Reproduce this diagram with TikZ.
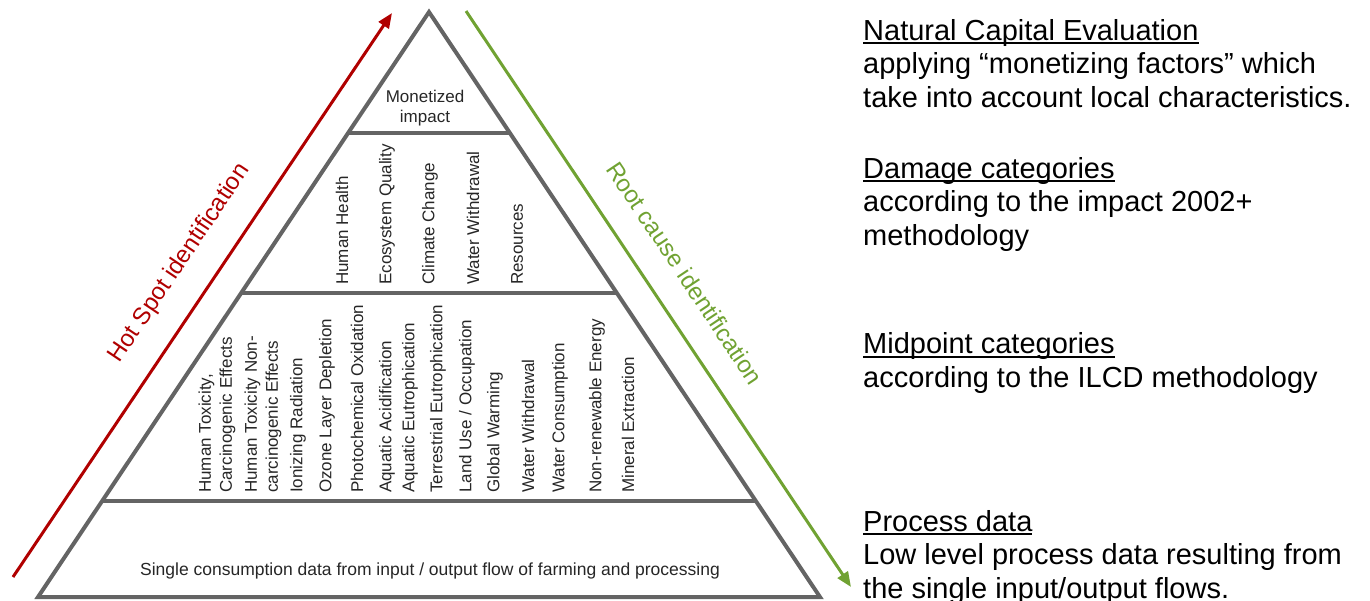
\documentclass[tikz,border=0pt]{standalone}
\usepackage{fontspec}
\setmainfont{Liberation Sans}
\usetikzlibrary{calc,arrows.meta}

\definecolor{hotred}{RGB}{176,0,0}
\definecolor{rootgreen}{RGB}{112,162,50}
\definecolor{pyrgray}{RGB}{100,100,100}
\definecolor{pyrtext}{RGB}{38,38,38}

\newlength\headw
\newcommand\headul[1]{\settowidth{\headw}{#1}\rlap{\rule[-4pt]{\headw}{1.8pt}}#1}

\begin{document}
\begin{tikzpicture}[x=1pt,y=-1pt,
  pyr/.style={draw=pyrgray,line width=4pt},
  flow/.style={line width=3pt,-{Triangle[length=15pt,width=12pt]}},
  flowlabel/.style={sloped,inner sep=0pt,font=\fontsize{24}{28}\selectfont},
  cat/.style={rotate=90,anchor=west,inner sep=0pt,align=left,text=pyrtext,
    font=\fontsize{17}{21}\selectfont},
  note/.style={anchor=base west,inner sep=0pt,align=left,
    font=\fontsize{29}{33.5}\selectfont}]
\useasboundingbox (0,0) rectangle (1370,600);

% pyramid
\coordinate (apex) at (429,12);
\coordinate (bl) at (38,597);
\coordinate (br) at (820,597);
\draw[pyr,line join=miter] (bl) -- (apex) -- (br) -- cycle;
\foreach \t [count=\i] in {0.2068,0.4803,0.8359} {
  \coordinate (left\i) at ($(apex)!\t!(bl)$);
  \coordinate (right\i) at ($(apex)!\t!(br)$);
  \draw[pyr] (left\i) -- (right\i);
}

% levels
\node[align=center,inner sep=0pt,text=pyrtext,font=\fontsize{17}{20}\selectfont]
  (money) at (425,108) {Monetized\\impact};

\foreach \x/\txt [count=\i] in {342/Human Health,387/Ecosystem Quality,
    430/Climate Change,473/Water Withdrawal,517/Resources} {
  \node[cat] (dmg\i) at (\x,285) {\txt};
}

\foreach \x/\txt [count=\i] in {217/{Human Toxicity,\\Carcinogenic Effects},
    263/{Human Toxicity Non-\\carcinogenic Effects},298/Ionizing Radiation,
    327/Ozone Layer Depletion,357/Photochemical Oxidation,
    387/Aquatic Acidification,410/Aquatic Eutrophication,
    438/Terrestrial Eutrophication,467/{Land Use / Occupation},
    495/Global Warming,528/Water Withdrawal,560/Water Consumption,
    597/Non-renewable Energy,628/Mineral Extraction} {
  \node[cat] (mid\i) at (\x,493) {\txt};
}

\node[anchor=base,inner sep=0pt,text=pyrtext,font=\fontsize{17.5}{20}\selectfont]
  (process) at (430,575)
  {Single consumption data from input / output flow of farming and processing};

% arrows
\coordinate (hsfoot) at (13,577);
\coordinate (hstip) at (392,13);
\coordinate (rcfoot) at (466,11);
\coordinate (rctip) at (851,587);
\draw[flow,hotred] (hsfoot) -- node[flowlabel,pos=0.52,above=24pt,text=hotred]
  (hotspot) {Hot Spot identification} (hstip);
\draw[flow,rootgreen] (rcfoot) -- node[flowlabel,pos=0.49,above=26pt,text=rootgreen]
  (rootcause) {Root cause identification} (rctip);

% descriptions (anchored at the baseline of the last line)
\node[note] (nce) at (863,107) {\headul{Natural Capital Evaluation}\\
  applying “monetizing factors” which\\take into account local characteristics.};
\node[note] (damage) at (863,245) {\headul{Damage categories}\\
  according to the impact 2002+\\methodology};
\node[note] (midpoint) at (863,387) {\headul{Midpoint categories}\\
  according to the ILCD methodology};
\node[note] (procdata) at (863,598) {\headul{Process data}\\
  Low level process data resulting from\\the single input/output flows.};

\end{tikzpicture}
\end{document}
